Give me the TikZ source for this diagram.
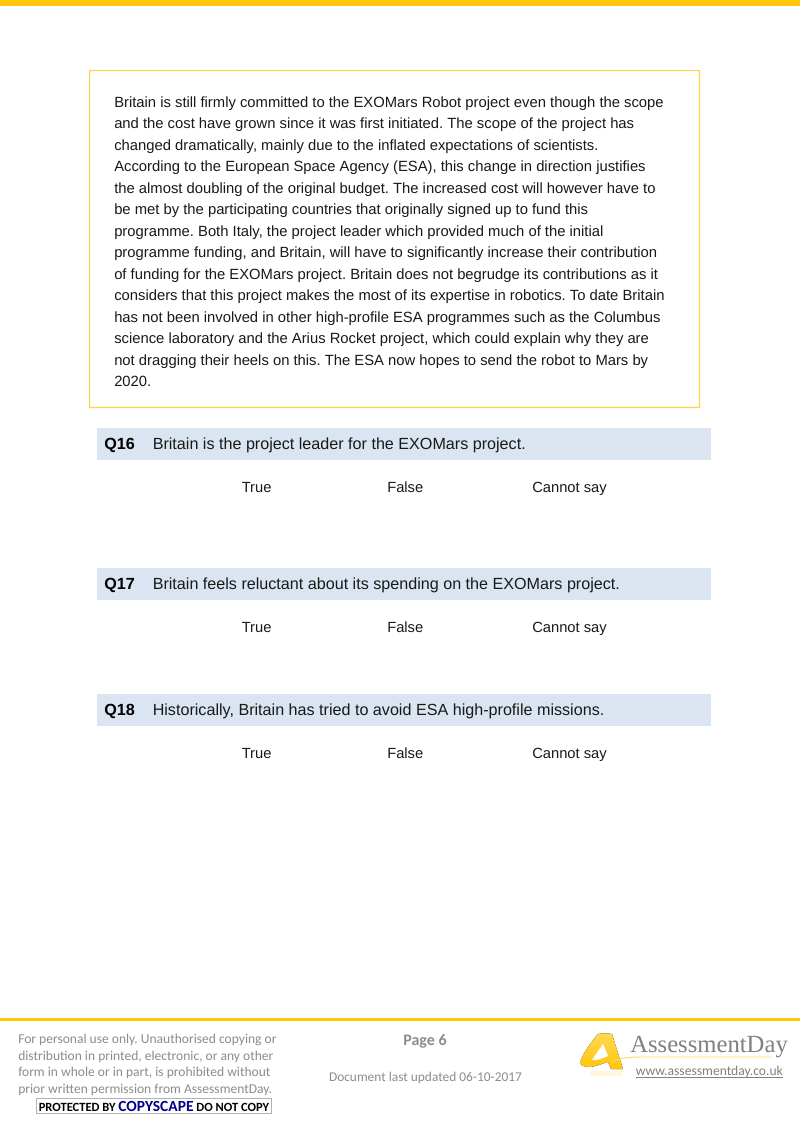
\documentclass[tikz,border=0pt]{standalone}
\usepackage{fontspec}
\setmainfont{Liberation Sans}
\newfontfamily\footfont{Carlito}
\newfontfamily\logofont{Liberation Serif}
\usetikzlibrary{positioning}
\definecolor{barcolor}{HTML}{FFC90A}
\definecolor{framecolor}{HTML}{FFD04D}
\definecolor{bandcolor}{HTML}{DBE5F1}
\definecolor{footgrey}{HTML}{8C8C8C}
\definecolor{logogrey}{HTML}{808080}
\tikzset{
  body/.style={anchor=north west, inner sep=0pt, align=left, font=\fontsize{11.1}{16.1}\selectfont, text=black!90},
  qnum/.style={anchor=base west, inner sep=0pt, font=\fontsize{12.1}{14}\selectfont\bfseries},
  qtext/.style={anchor=base west, inner sep=0pt, font=\fontsize{12.1}{14}\selectfont, text=black!90},
  answer/.style={anchor=base west, inner sep=0pt, font=\fontsize{11.05}{14}\selectfont, text=black!90},
  foot/.style={inner sep=0pt, text=footgrey, font=\footfont\fontsize{10}{12}\selectfont}
}
\frenchspacing
\begin{document}
\begin{tikzpicture}[x=0.75pt, y=-0.75pt]
  \useasboundingbox (0,0) rectangle (800,1132);
  \fill[white] (0,0) rectangle (800,1132);
  \fill[barcolor] (0,0) rectangle (800,6);
  % passage
  \fill[framecolor, even odd rule] (89,70) rectangle (700,408) (90.2,71.2) rectangle (698.8,406.8);
  \node[body] (passage) at (114,96.5) {Britain is still firmly committed to the EXOMars Robot project even though the scope\\
    and the cost have grown since it was first initiated. The scope of the project has\\
    changed dramatically, mainly due to the inflated expectations of scientists.\\
    According to the European Space Agency (ESA), this change in direction justifies\\
    the almost doubling of the original budget. The increased cost will however have to\\
    be met by the participating countries that originally signed up to fund this\\
    programme. Both Italy, the project leader which provided much of the initial\\
    programme funding, and Britain, will have to significantly increase their contribution\\
    of funding for the EXOMars project. Britain does not begrudge its contributions as it\\
    considers that this project makes the most of its expertise in robotics. To date Britain\\
    has not been involved in other high-profile ESA programmes such as the Columbus\\
    science laboratory and the Arius Rocket project, which could explain why they are\\
    not dragging their heels on this. The ESA now hopes to send the robot to Mars by\\
    2020.};
  % questions
  \foreach \qy/\ay/\qname/\qline in {
    428/492/Q16/{Britain is the project leader for the EXOMars project.},
    568/632/Q17/{Britain feels reluctant about its spending on the EXOMars project.},
    694/758/Q18/{Historically, Britain has tried to avoid ESA high-profile missions.}} {
    \fill[bandcolor] (97,\qy) rectangle (711,\qy+32);
    \node[qnum] (\qname) at (104,\qy+21) {\qname};
    \node[qtext] (\qname text) at (152.5,\qy+21) {\qline};
    \node[answer] (\qname true) at (241.5,\ay) {True};
    \node[answer] (\qname false) at (387,\ay) {False};
    \node[answer] (\qname say) at (532,\ay) {Cannot say};
  }
  % footer
  \fill[barcolor] (0,1018) rectangle (800,1021);
  \node[foot, anchor=north west, align=left, font=\footfont\fontsize{10.15}{12.35}\selectfont] (notice) at (18,1034) {For personal use only. Unauthorised copying or\\
    distribution in printed, electronic, or any other\\
    form in whole or in part, is prohibited without\\
    prior written permission from AssessmentDay.};
  \node[foot, anchor=base, font=\footfont\bfseries\fontsize{12}{12}\selectfont] (page) at (425,1045) {Page 6};
  \node[foot, anchor=base, font=\footfont\fontsize{10.05}{12}\selectfont] (updated) at (425.5,1081) {Document last updated 06-10-2017};
  % copyscape badge
  \fill[black!30] (36,1098) rectangle (272,1113.5);
  \fill[white] (37,1099) rectangle (271,1112.5);
  \node[inner sep=0pt, anchor=center, font=\footfont\fontsize{9.4}{9}\selectfont\bfseries] (badge) at (154,1106) {PROTECTED BY \textcolor{blue!55!black}{\fontsize{11.6}{9}\selectfont COPYSCAPE} DO NOT COPY};
  % logo
  \fill[barcolor!15] (590,1071) rectangle (622,1076);
  \fill[top color=barcolor!70!white, bottom color=barcolor!95!orange] (598,1034) .. controls (602,1033) and (608,1033) .. (612,1034)
    -- (623,1069) -- (611,1069) -- (608,1062)
    .. controls (600,1064) and (593,1068) .. (587,1067)
    .. controls (583,1066) and (580,1065) .. (580,1062)
    .. controls (584,1052) and (591,1042) .. (598,1034) -- cycle;
  \fill[white] (603,1044) .. controls (599,1050) and (595,1055) .. (592,1060)
    .. controls (597,1061) and (603,1058) .. (608,1056) -- cycle;
  \draw[barcolor!70!white, line width=0.7pt] (611,1062) .. controls (620,1058) and (630,1057) .. (640,1057)
    -- (771,1057);
  \node[inner sep=0pt, anchor=base west, text=logogrey, font=\logofont\fontsize{18.5}{20}\selectfont] (logoname) at (630,1052) {AssessmentDay};
  \node[inner sep=0pt, anchor=base west, text=logogrey, font=\footfont\fontsize{10.2}{12}\selectfont] (website) at (635.5,1075) {www.assessmentday.co.uk};
  \fill[logogrey] (635.5,1077.2) rectangle (783,1077.9);
\end{tikzpicture}
\end{document}
